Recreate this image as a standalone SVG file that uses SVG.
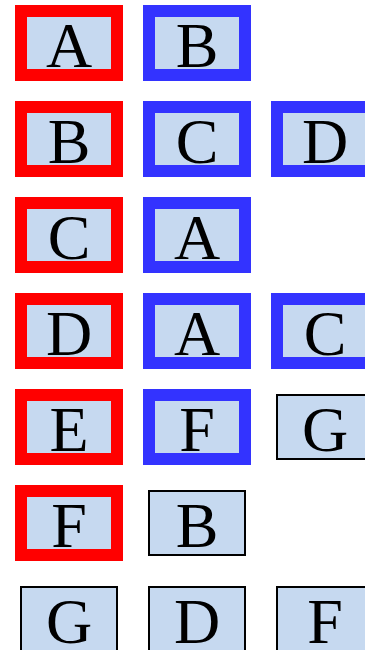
<svg xmlns="http://www.w3.org/2000/svg" width="365" height="650" viewBox="0 0 365 650">
<style>
rect{fill:#c6d9f0;}
.r{stroke:#ff0000;stroke-width:12;}
.b{stroke:#3333ff;stroke-width:12;}
.k{stroke:#000000;stroke-width:2;}
text{font-family:"Liberation Serif","Times New Roman",serif;font-size:64px;text-anchor:middle;fill:#000;}
</style>
<g id="connectors"></g>
<g id="r1a"><rect class="r" x="21" y="11" width="96" height="64"/><text x="69" y="67">A</text></g>
<g id="r1b"><rect class="b" x="149" y="11" width="96" height="64"/><text x="197" y="67">B</text></g>
<g id="r2a"><rect class="r" x="21" y="107" width="96" height="64"/><text x="69" y="163">B</text></g>
<g id="r2b"><rect class="b" x="149" y="107" width="96" height="64"/><text x="197" y="163">C</text></g>
<g id="r2c"><rect class="b" x="277" y="107" width="96" height="64"/><text x="325" y="163">D</text></g>
<g id="r3a"><rect class="r" x="21" y="203" width="96" height="64"/><text x="69" y="259">C</text></g>
<g id="r3b"><rect class="b" x="149" y="203" width="96" height="64"/><text x="197" y="259">A</text></g>
<g id="r4a"><rect class="r" x="21" y="299" width="96" height="64"/><text x="69" y="355">D</text></g>
<g id="r4b"><rect class="b" x="149" y="299" width="96" height="64"/><text x="197" y="355">A</text></g>
<g id="r4c"><rect class="b" x="277" y="299" width="96" height="64"/><text x="325" y="355">C</text></g>
<g id="r5a"><rect class="r" x="21" y="395" width="96" height="64"/><text x="69" y="451">E</text></g>
<g id="r5b"><rect class="b" x="149" y="395" width="96" height="64"/><text x="197" y="451">F</text></g>
<g id="r5c"><rect class="k" x="277" y="395" width="96" height="64"/><text x="325" y="451">G</text></g>
<g id="r6a"><rect class="r" x="21" y="491" width="96" height="64"/><text x="69" y="547">F</text></g>
<g id="r6b"><rect class="k" x="149" y="491" width="96" height="64"/><text x="197" y="547">B</text></g>
<g id="r7a"><rect class="k" x="21" y="587" width="96" height="64"/><text x="69" y="643">G</text></g>
<g id="r7b"><rect class="k" x="149" y="587" width="96" height="64"/><text x="197" y="643">D</text></g>
<g id="r7c"><rect class="k" x="277" y="587" width="96" height="64"/><text x="325" y="643">F</text></g>
</svg>
